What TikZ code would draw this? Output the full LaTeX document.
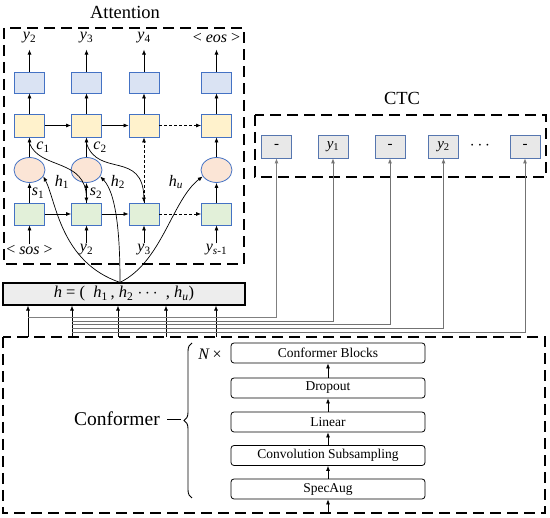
\documentclass[tikz,border=0pt]{standalone}
\usepackage{fontspec}
\setmainfont{Liberation Serif}
\usetikzlibrary{arrows.meta,decorations.pathreplacing,calc,shapes.geometric}
\definecolor{boxline}{HTML}{4472C4}
\definecolor{outfill}{HTML}{DAE3F3}
\definecolor{decfill}{HTML}{FFF2CC}
\definecolor{encfill}{HTML}{E2F0D9}
\definecolor{attfill}{HTML}{FBE5D6}
\definecolor{ctcfill}{HTML}{E8E8E8}
\newcommand{\sym}[2]{\textit{#1}\textsubscript{#2}}

\begin{document}
\begin{tikzpicture}[x=1pt,y=-1pt,
    arr/.style={-{Latex[length=5pt,width=4pt]},line width=0.7pt},
    dasharr/.style={arr,dash pattern=on 3pt off 2pt},
    blk/.style={draw=boxline,line width=0.8pt,minimum width=30pt,inner sep=0pt},
    dashbox/.style={line width=1.5pt,dash pattern=on 11pt off 6pt},
    tag/.style={inner sep=1pt,font=\fontsize{16}{16}\selectfont},
    lyr/.style={draw,rounded corners=3pt,line width=0.8pt,minimum width=194pt,minimum height=20pt,inner sep=0pt,font=\fontsize{13.5}{14}\selectfont},
    title/.style={font=\fontsize{18.5}{18}\selectfont}]
  \useasboundingbox (0,0) rectangle (550,518);

  % attention decoder
  \node[title] (atttitle) at (125,12) {Attention};
  \draw[dashbox] (4,28) rectangle (244,264);
  \foreach \i/\x/\yo/\yi in {1/29.5/\sym{y}{2}/{<\ \textit{sos}\ >},2/86.5/\sym{y}{3}/\sym{y}{2},3/144/\sym{y}{4}/\sym{y}{3},4/216.5/{<\ \textit{eos}\ >}/{\textit{y}\textsubscript{\textit{s}-1}}}{
    \node[blk,fill=outfill,minimum height=21pt] (out\i) at (\x,82.5) {};
    \node[blk,fill=decfill,minimum height=23pt] (dec\i) at (\x,125.5) {};
    \node[blk,fill=encfill,minimum height=22pt] (enc\i) at (\x,214) {};
    \node[tag] (ylab\i) at (\x,38) {\yo};
    \node[tag] (xlab\i) at (\x,250) {\yi};
    \draw[arr] (out\i.north) -- ++(0,-22);
    \draw[arr] (dec\i.north) -- (out\i.south);
    \draw[arr] (xlab\i.north) -- (enc\i.south);
  }
  \foreach \i/\x in {1/29.5,2/86.5,4/216.5}{
    \node[ellipse,draw=boxline,fill=attfill,line width=0.8pt,minimum width=31pt,minimum height=25pt,inner sep=0pt] (att\i) at (\x,170) {};
    \draw[arr] (att\i.north) -- (dec\i.south);
    \draw[arr] (enc\i.north) -- (att\i.south);
  }
  \draw[dasharr] (enc3.north) -- (dec3.south);
  \draw[arr] (dec1) -- (dec2);
  \draw[arr] (dec2) -- (dec3);
  \draw[dasharr] (dec3) -- (dec4);
  \draw[arr] (enc1) -- (enc2);
  \draw[arr] (enc2) -- (enc3);
  \draw[dasharr] (enc3) -- (enc4);
  \node[tag] (c1) at (43,147) {\sym{c}{1}};
  \node[tag] (c2) at (100,147) {\sym{c}{2}};
  \node[tag] (s1) at (38,193) {\sym{s}{1}};
  \node[tag] (s2) at (96,193) {\sym{s}{2}};
  \node[tag] (h1) at (62,182) {\sym{h}{1}};
  \node[tag] (h2) at (118,182) {\sym{h}{2}};
  \node[tag] (hu) at (176,182) {\sym{h}{\textit{u}}};
  \draw[arr] ($(att1.north)!0.7!(dec1.south)$) .. controls (40,170) and (86,158) .. (enc2.north);
  \draw[arr] ($(att2.north)!0.7!(dec2.south)$) .. controls (98,178) and (143,150) .. (enc3.north);

  % encoder output
  \node[draw,line width=1.2pt,fill=ctcfill!80!white,minimum width=242pt,minimum height=22pt,inner sep=0pt,font=\fontsize{16.5}{16}\selectfont] (hbox) at (124,294) {\textit{h} = (\ \ \sym{h}{1}\,, \sym{h}{2} $\cdots$ \ , \sym{h}{\textit{u}})};
  \coordinate (hc) at ([xshift=-4pt]hbox.north);
  \draw[arr] (hc) .. controls (60,262) and (56,200) .. (att1.-25);
  \draw[arr] (hc) .. controls (120,245) and (118,195) .. (att2.-25);
  \draw[arr] (hc) .. controls (162,262) and (172,200) .. (att4.205);

  % ctc
  \node[title] (ctctitle) at (402,98) {CTC};
  \draw[dashbox] (255,115) rectangle (546,177);
  \foreach \k/\x/\t in {1/276.5/-,2/333/\sym{y}{1},3/390/-,4/443.5/\sym{y}{2},5/525/-}{
    \node[blk,draw=boxline!70!gray,fill=ctcfill,minimum height=23pt,font=\fontsize{15}{15}\selectfont] (ctc\k) at (\x,146.5) {\t};
  }
  \node[font=\fontsize{16}{16}\selectfont] (dots) at (480,146) {$\cdots$};

  % conformer encoder
  \draw[dashbox] (3,337) rectangle (545,513);
  \node[lyr] (blocks) at (328,353) {Conformer Blocks};
  \node[lyr] (drop) at (328,388) {Dropout};
  \node[lyr] (lin) at (328,422) {Linear};
  \node[lyr] (conv) at (328,455.5) {Convolution Subsampling};
  \node[lyr] (spec) at (328,489) {SpecAug};
  \coordinate (inp) at (328,513);
  \draw[arr] (inp) -- (spec);
  \draw[arr] (spec) -- (conv);
  \draw[arr] (conv) -- (lin);
  \draw[arr] (lin) -- (drop);
  \draw[arr] (drop) -- (blocks);
  \node[font=\fontsize{16}{16}\selectfont] (nx) at (210,354) {\textit{N}\,×};
  \draw[line width=0.9pt,decorate,decoration={brace,amplitude=8pt}] (192,498) -- (192,343);
  \node[font=\fontsize{19.5}{19}\selectfont] (conf) at (117,419) {Conformer};
  \draw[line width=0.9pt] ([xshift=4pt]conf.east) -- ++(14,0);

  \foreach \i/\x in {1/28,2/72,3/118,4/166,5/216}{
    \coordinate (src\i) at (\x,337);
    \draw[arr] (src\i) -- (src\i |- hbox.south);
  }
  \draw[gray,line width=0.8pt,-{Latex[length=5pt,width=4pt]}] (28,317) -| (ctc1.south);
  \foreach \k/\y in {2/321,3/324,4/328,5/332}{
    \draw[gray!90!black,line width=0.8pt,-{Latex[length=5pt,width=4pt]}] (72,\y) -| (ctc\k.south);
  }
\end{tikzpicture}
\end{document}
